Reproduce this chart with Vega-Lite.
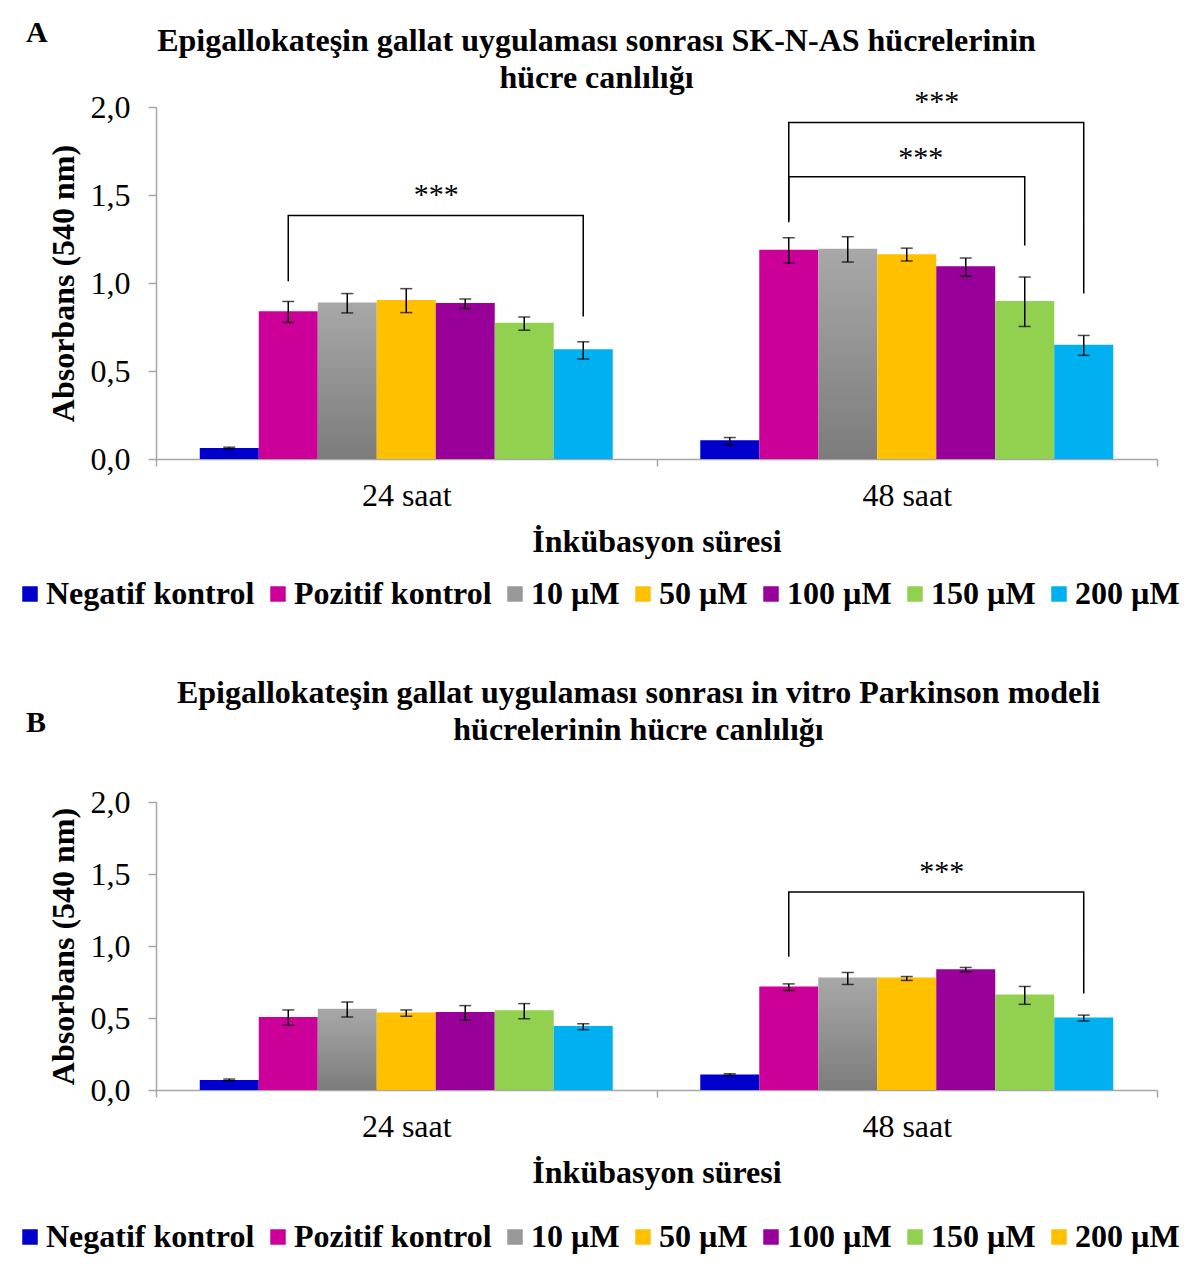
{
  "$schema": "https://vega.github.io/schema/vega-lite/v6.json",
  "background": "white",
  "padding": {"left": 14, "top": 17, "right": 5, "bottom": 5},
  "spacing": 67,
  "config": {
    "font": "Liberation Serif",
    "view": {"stroke": null},
    "axis": {"grid": false, "labelFont": "Liberation Serif", "titleFont": "Liberation Serif", "labelColor": "black", "titleColor": "black", "domainColor": "#a6a6a6", "tickColor": "#a6a6a6", "domainWidth": 1.5, "tickWidth": 1.5, "labelFontSize": 32, "titleFontSize": 32, "titleFontWeight": "bold"},
    "axisX": {"tickBand": "extent", "tickSize": 7, "labelPadding": 14, "titlePadding": 15, "labelAngle": 0},
    "axisY": {"tickSize": 8, "labelPadding": 18, "titlePadding": 10},
    "title": {"font": "Liberation Serif", "fontSize": 32, "fontWeight": "bold", "color": "black", "lineHeight": 37},
    "legend": {"labelFont": "Liberation Serif", "labelFontSize": 32, "labelFontWeight": "bold", "labelColor": "black", "symbolType": "square", "symbolSize": 240, "labelOffset": 0, "columnPadding": 7, "padding": 0, "labelLimit": 0, "symbolStrokeWidth": 0}
  },
  "datasets": {
    "bars": [
      {"panel": "A", "group": "24 saat", "series": "Negatif kontrol", "value": 0.062, "lo": 0.057, "hi": 0.067},
      {"panel": "A", "group": "24 saat", "series": "Pozitif kontrol", "value": 0.84, "lo": 0.776, "hi": 0.895},
      {"panel": "A", "group": "24 saat", "series": "10 µM", "value": 0.889, "lo": 0.83, "hi": 0.94},
      {"panel": "A", "group": "24 saat", "series": "50 µM", "value": 0.904, "lo": 0.832, "hi": 0.968},
      {"panel": "A", "group": "24 saat", "series": "100 µM", "value": 0.887, "lo": 0.855, "hi": 0.909},
      {"panel": "A", "group": "24 saat", "series": "150 µM", "value": 0.774, "lo": 0.732, "hi": 0.807},
      {"panel": "A", "group": "24 saat", "series": "200 µM", "value": 0.623, "lo": 0.568, "hi": 0.666},
      {"panel": "A", "group": "48 saat", "series": "Negatif kontrol", "value": 0.107, "lo": 0.079, "hi": 0.122},
      {"panel": "A", "group": "48 saat", "series": "Pozitif kontrol", "value": 1.189, "lo": 1.113, "hi": 1.257},
      {"panel": "A", "group": "48 saat", "series": "10 µM", "value": 1.195, "lo": 1.119, "hi": 1.263},
      {"panel": "A", "group": "48 saat", "series": "50 µM", "value": 1.164, "lo": 1.125, "hi": 1.198},
      {"panel": "A", "group": "48 saat", "series": "100 µM", "value": 1.095, "lo": 1.038, "hi": 1.142},
      {"panel": "A", "group": "48 saat", "series": "150 µM", "value": 0.898, "lo": 0.753, "hi": 1.034},
      {"panel": "A", "group": "48 saat", "series": "200 µM", "value": 0.649, "lo": 0.589, "hi": 0.702},
      {"panel": "B", "group": "24 saat", "series": "Negatif kontrol", "value": 0.07, "lo": 0.064, "hi": 0.076},
      {"panel": "B", "group": "24 saat", "series": "Pozitif kontrol", "value": 0.507, "lo": 0.449, "hi": 0.556},
      {"panel": "B", "group": "24 saat", "series": "10 µM", "value": 0.565, "lo": 0.507, "hi": 0.611},
      {"panel": "B", "group": "24 saat", "series": "50 µM", "value": 0.539, "lo": 0.512, "hi": 0.556},
      {"panel": "B", "group": "24 saat", "series": "100 µM", "value": 0.542, "lo": 0.484, "hi": 0.586},
      {"panel": "B", "group": "24 saat", "series": "150 µM", "value": 0.553, "lo": 0.495, "hi": 0.6},
      {"panel": "B", "group": "24 saat", "series": "200 µM", "value": 0.444, "lo": 0.419, "hi": 0.46},
      {"panel": "B", "group": "48 saat", "series": "Negatif kontrol", "value": 0.107, "lo": 0.1, "hi": 0.113},
      {"panel": "B", "group": "48 saat", "series": "Pozitif kontrol", "value": 0.719, "lo": 0.691, "hi": 0.737},
      {"panel": "B", "group": "48 saat", "series": "10 µM", "value": 0.781, "lo": 0.733, "hi": 0.816},
      {"panel": "B", "group": "48 saat", "series": "50 µM", "value": 0.781, "lo": 0.761, "hi": 0.788},
      {"panel": "B", "group": "48 saat", "series": "100 µM", "value": 0.839, "lo": 0.821, "hi": 0.851},
      {"panel": "B", "group": "48 saat", "series": "150 µM", "value": 0.663, "lo": 0.595, "hi": 0.719},
      {"panel": "B", "group": "48 saat", "series": "200 µM", "value": 0.504, "lo": 0.479, "hi": 0.52}
    ],
    "brackets": [
      {"panel": "A", "id": "a1", "group": "24 saat", "series": "Pozitif kontrol", "y": 1.01, "ord": 1},
      {"panel": "A", "id": "a1", "group": "24 saat", "series": "Pozitif kontrol", "y": 1.383, "ord": 2},
      {"panel": "A", "id": "a1", "group": "24 saat", "series": "200 µM", "y": 1.383, "ord": 3},
      {"panel": "A", "id": "a1", "group": "24 saat", "series": "200 µM", "y": 0.81, "ord": 4},
      {"panel": "A", "id": "a2", "group": "48 saat", "series": "Pozitif kontrol", "y": 1.355, "ord": 1},
      {"panel": "A", "id": "a2", "group": "48 saat", "series": "Pozitif kontrol", "y": 1.604, "ord": 2},
      {"panel": "A", "id": "a2", "group": "48 saat", "series": "150 µM", "y": 1.604, "ord": 3},
      {"panel": "A", "id": "a2", "group": "48 saat", "series": "150 µM", "y": 1.213, "ord": 4},
      {"panel": "A", "id": "a3", "group": "48 saat", "series": "Pozitif kontrol", "y": 1.345, "ord": 1},
      {"panel": "A", "id": "a3", "group": "48 saat", "series": "Pozitif kontrol", "y": 1.912, "ord": 2},
      {"panel": "A", "id": "a3", "group": "48 saat", "series": "200 µM", "y": 1.912, "ord": 3},
      {"panel": "A", "id": "a3", "group": "48 saat", "series": "200 µM", "y": 0.94, "ord": 4},
      {"panel": "B", "id": "b1", "group": "48 saat", "series": "Pozitif kontrol", "y": 0.925, "ord": 1},
      {"panel": "B", "id": "b1", "group": "48 saat", "series": "Pozitif kontrol", "y": 1.375, "ord": 2},
      {"panel": "B", "id": "b1", "group": "48 saat", "series": "200 µM", "y": 1.375, "ord": 3},
      {"panel": "B", "id": "b1", "group": "48 saat", "series": "200 µM", "y": 0.67, "ord": 4}
    ],
    "stars": [
      {"panel": "A", "id": "a1", "group": "24 saat", "series": "100 µM", "y": 1.502, "label": "***"},
      {"panel": "A", "id": "a3", "group": "48 saat", "series": "100 µM", "y": 2.03, "label": "***"},
      {"panel": "A", "id": "a2", "group": "48 saat", "series": "50 µM", "y": 1.713, "label": "***"},
      {"panel": "B", "id": "b1", "group": "48 saat", "series": "50 µM", "y": 1.512, "label": "***"}
    ]
  },
  "resolve": {"scale": {"color": "independent", "fill": "independent"}, "legend": {"color": "independent"}},
  "vconcat": [
    {
      "title": {"text": "A", "anchor": "start", "offset": -23, "dx": 12, "fontSize": 30},
      "vconcat": [
        {
          "width": 1001,
          "height": 352,
          "title": {"text": ["Epigallokateşin gallat uygulaması sonrası SK-N-AS hücrelerinin", "hücre canlılığı"], "anchor": "middle", "offset": -8, "dx": -60},
          "encoding": {
            "x": {"field": "group", "type": "nominal", "title": "İnkübasyon süresi", "scale": {"paddingInner": 0, "paddingOuter": 0}},
            "xOffset": {"field": "series", "type": "nominal", "scale": {"domain": ["Negatif kontrol", "Pozitif kontrol", "10 µM", "50 µM", "100 µM", "150 µM", "200 µM"], "paddingInner": 0, "paddingOuter": 0.742}}
          },
          "layer": [
            {
              "data": {"name": "bars"},
              "transform": [{"filter": "datum.panel === 'A'"}],
              "mark": {"type": "square", "opacity": 0, "size": 10},
              "encoding": {
                "y": {"field": "value", "type": "quantitative", "title": "Absorbans (540 nm)", "scale": {"domain": [0, 2], "nice": false}, "axis": {"values": [0, 0.5, 1, 1.5, 2], "labelExpr": "replace(format(datum.value, '.1f'), '.', ',')"}},
                "color": {
                  "field": "series", "type": "nominal",
                  "scale": {"domain": ["Negatif kontrol", "Pozitif kontrol", "10 µM", "50 µM", "100 µM", "150 µM", "200 µM"], "range": ["#0000CC", "#CC0099", "#999999", "#FFC000", "#990099", "#92D050", "#00B0F0"]},
                  "legend": {"orient": "none", "direction": "horizontal", "title": null, "legendX": -142, "legendY": 471, "symbolOpacity": 1}
                }
              }
            },
            {
              "data": {"name": "bars"},
              "transform": [{"filter": "datum.panel === 'A'"}],
              "mark": {"type": "bar"},
              "encoding": {
                "y": {"field": "value", "type": "quantitative", "title": "Absorbans (540 nm)", "scale": {"domain": [0, 2], "nice": false}},
                "fill": {
                  "condition": {"test": "datum.series === '10 µM'", "value": {"gradient": "linear", "x1": 0, "y1": 0, "x2": 0, "y2": 1, "stops": [{"offset": 0, "color": "#a8a8a8"}, {"offset": 1, "color": "#7c7c7c"}]}},
                  "field": "series", "type": "nominal", "legend": null,
                  "scale": {"domain": ["Negatif kontrol", "Pozitif kontrol", "10 µM", "50 µM", "100 µM", "150 µM", "200 µM"], "range": ["#0000CC", "#CC0099", "#999999", "#FFC000", "#990099", "#92D050", "#00B0F0"]}
                }
              }
            },
            {
              "data": {"name": "bars"},
              "transform": [{"filter": "datum.panel === 'A'"}],
              "mark": {"type": "rule", "color": "black", "strokeWidth": 1.5},
              "encoding": {
                "y": {"field": "lo", "type": "quantitative", "title": "Absorbans (540 nm)", "scale": {"domain": [0, 2], "nice": false}},
                "y2": {"field": "hi"}
              }
            },
            {
              "data": {"name": "bars"},
              "transform": [{"filter": "datum.panel === 'A'"}],
              "mark": {"type": "tick", "color": "black", "thickness": 1.5, "size": 12},
              "encoding": {
                "y": {"field": "lo", "type": "quantitative", "title": "Absorbans (540 nm)", "scale": {"domain": [0, 2], "nice": false}}
              }
            },
            {
              "data": {"name": "bars"},
              "transform": [{"filter": "datum.panel === 'A'"}],
              "mark": {"type": "tick", "color": "black", "thickness": 1.5, "size": 12},
              "encoding": {
                "y": {"field": "hi", "type": "quantitative", "title": "Absorbans (540 nm)", "scale": {"domain": [0, 2], "nice": false}}
              }
            },
            {
              "data": {"name": "brackets"},
              "transform": [{"filter": "datum.panel === 'A'"}],
              "mark": {"type": "line", "color": "black", "strokeWidth": 1.5},
              "encoding": {
                "y": {"field": "y", "type": "quantitative", "title": "Absorbans (540 nm)", "scale": {"domain": [0, 2], "nice": false}},
                "detail": {"field": "id"},
                "order": {"field": "ord", "type": "quantitative"}
              }
            },
            {
              "data": {"name": "stars"},
              "transform": [{"filter": "datum.panel === 'A' && datum.id !== 'a2'"}],
              "mark": {"type": "text", "fontSize": 30, "dx": -29, "baseline": "middle", "color": "black"},
              "encoding": {
                "y": {"field": "y", "type": "quantitative", "title": "Absorbans (540 nm)", "scale": {"domain": [0, 2], "nice": false}},
                "text": {"field": "label"}
              }
            },
            {
              "data": {"name": "stars"},
              "transform": [{"filter": "datum.id === 'a2'"}],
              "mark": {"type": "text", "fontSize": 30, "dx": 14, "baseline": "middle", "color": "black"},
              "encoding": {
                "y": {"field": "y", "type": "quantitative", "title": "Absorbans (540 nm)", "scale": {"domain": [0, 2], "nice": false}},
                "text": {"field": "label"}
              }
            }
          ]
        }
      ]
    },
    {
      "title": {"text": "B", "anchor": "start", "offset": -61, "dx": 12, "fontSize": 30},
      "vconcat": [
        {
          "width": 1001,
          "height": 288,
          "title": {"text": ["Epigallokateşin gallat uygulaması sonrası in vitro Parkinson modeli", "hücrelerinin hücre canlılığı"], "anchor": "middle", "offset": 39, "dx": -18},
          "encoding": {
            "x": {"field": "group", "type": "nominal", "title": "İnkübasyon süresi", "scale": {"paddingInner": 0, "paddingOuter": 0}},
            "xOffset": {"field": "series", "type": "nominal", "scale": {"domain": ["Negatif kontrol", "Pozitif kontrol", "10 µM", "50 µM", "100 µM", "150 µM", "200 µM"], "paddingInner": 0, "paddingOuter": 0.742}}
          },
          "layer": [
            {
              "data": {"name": "bars"},
              "transform": [{"filter": "datum.panel === 'B'"}],
              "mark": {"type": "square", "opacity": 0, "size": 10},
              "encoding": {
                "y": {"field": "value", "type": "quantitative", "title": "Absorbans (540 nm)", "scale": {"domain": [0, 2], "nice": false}, "axis": {"values": [0, 0.5, 1, 1.5, 2], "labelExpr": "replace(format(datum.value, '.1f'), '.', ',')"}},
                "color": {
                  "field": "series", "type": "nominal",
                  "scale": {"domain": ["Negatif kontrol", "Pozitif kontrol", "10 µM", "50 µM", "100 µM", "150 µM", "200 µM"], "range": ["#0000CC", "#CC0099", "#999999", "#FFC000", "#990099", "#92D050", "#FFC000"]},
                  "legend": {"orient": "none", "direction": "horizontal", "title": null, "legendX": -142, "legendY": 419, "symbolOpacity": 1}
                }
              }
            },
            {
              "data": {"name": "bars"},
              "transform": [{"filter": "datum.panel === 'B'"}],
              "mark": {"type": "bar"},
              "encoding": {
                "y": {"field": "value", "type": "quantitative", "title": "Absorbans (540 nm)", "scale": {"domain": [0, 2], "nice": false}},
                "fill": {
                  "condition": {"test": "datum.series === '10 µM'", "value": {"gradient": "linear", "x1": 0, "y1": 0, "x2": 0, "y2": 1, "stops": [{"offset": 0, "color": "#a8a8a8"}, {"offset": 1, "color": "#7c7c7c"}]}},
                  "field": "series", "type": "nominal", "legend": null,
                  "scale": {"domain": ["Negatif kontrol", "Pozitif kontrol", "10 µM", "50 µM", "100 µM", "150 µM", "200 µM"], "range": ["#0000CC", "#CC0099", "#999999", "#FFC000", "#990099", "#92D050", "#00B0F0"]}
                }
              }
            },
            {
              "data": {"name": "bars"},
              "transform": [{"filter": "datum.panel === 'B'"}],
              "mark": {"type": "rule", "color": "black", "strokeWidth": 1.5},
              "encoding": {
                "y": {"field": "lo", "type": "quantitative", "title": "Absorbans (540 nm)", "scale": {"domain": [0, 2], "nice": false}},
                "y2": {"field": "hi"}
              }
            },
            {
              "data": {"name": "bars"},
              "transform": [{"filter": "datum.panel === 'B'"}],
              "mark": {"type": "tick", "color": "black", "thickness": 1.5, "size": 12},
              "encoding": {
                "y": {"field": "lo", "type": "quantitative", "title": "Absorbans (540 nm)", "scale": {"domain": [0, 2], "nice": false}}
              }
            },
            {
              "data": {"name": "bars"},
              "transform": [{"filter": "datum.panel === 'B'"}],
              "mark": {"type": "tick", "color": "black", "thickness": 1.5, "size": 12},
              "encoding": {
                "y": {"field": "hi", "type": "quantitative", "title": "Absorbans (540 nm)", "scale": {"domain": [0, 2], "nice": false}}
              }
            },
            {
              "data": {"name": "brackets"},
              "transform": [{"filter": "datum.panel === 'B'"}],
              "mark": {"type": "line", "color": "black", "strokeWidth": 1.5},
              "encoding": {
                "y": {"field": "y", "type": "quantitative", "title": "Absorbans (540 nm)", "scale": {"domain": [0, 2], "nice": false}},
                "detail": {"field": "id"},
                "order": {"field": "ord", "type": "quantitative"}
              }
            },
            {
              "data": {"name": "stars"},
              "transform": [{"filter": "datum.panel === 'B'"}],
              "mark": {"type": "text", "fontSize": 30, "dx": 35, "baseline": "middle", "color": "black"},
              "encoding": {
                "y": {"field": "y", "type": "quantitative", "title": "Absorbans (540 nm)", "scale": {"domain": [0, 2], "nice": false}},
                "text": {"field": "label"}
              }
            }
          ]
        }
      ]
    }
  ]
}
